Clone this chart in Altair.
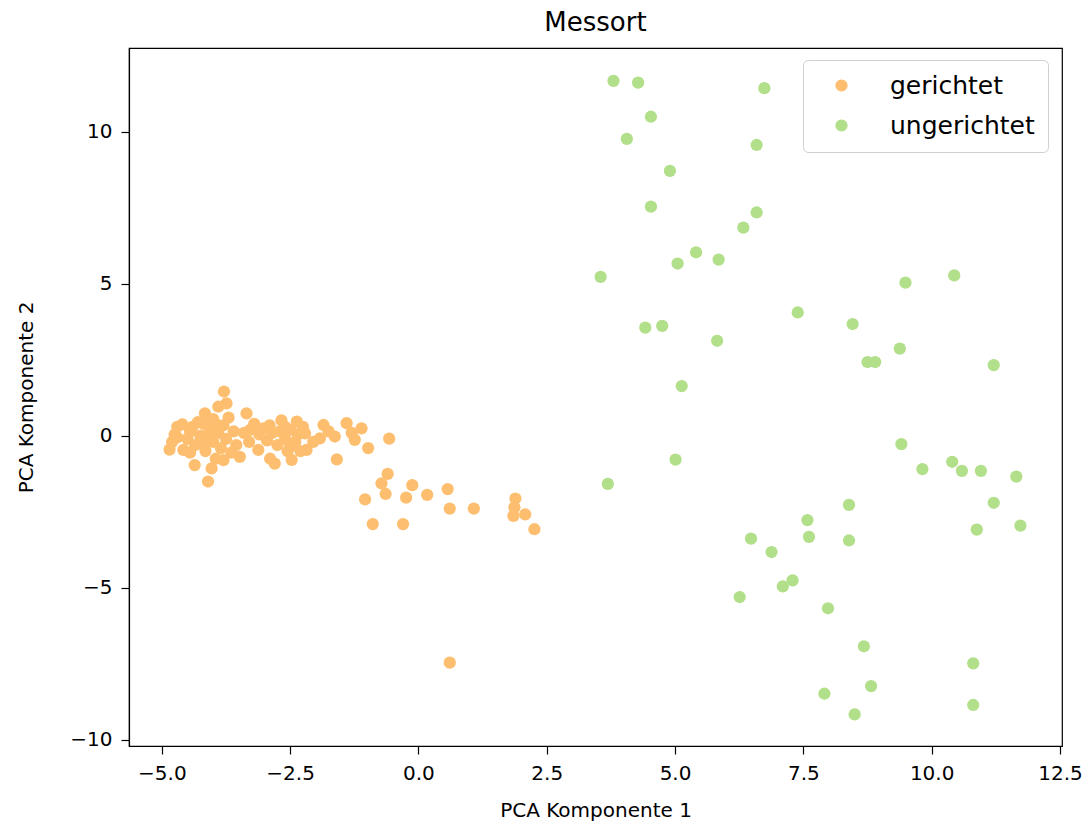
import altair as alt
import pandas as pd

categories = ["gerichtet", "ungerichtet"]
colors = ["#fdbf6f", "#b2df8a"]

ger_x = [-4.85, -4.80, -4.75, -4.70, -4.60, -4.58, -4.50, -4.45, -4.40, -4.35, -4.36, -4.25, -4.20, -4.16,
         -4.15, -4.10, -4.03, -4.05, -4.00, -4.00, -3.95, -3.90, -3.90, -3.85, -3.80, -3.79, -3.74, -3.75,
         -3.70, -3.80, -3.60, -3.55, -4.30, -4.10, -3.95, -4.20, -3.65, -4.45, -4.70,
         -3.48, -3.40, -3.35, -3.30, -3.28, -3.12, -3.10, -3.02, -2.95, -2.89, -2.85, -2.80, -2.75, -2.70,
         -2.67, -2.60, -2.55, -2.50, -2.37, -2.47, -2.40, -2.35, -2.30, -2.25, -2.21, -2.18, -2.05, -2.60,
         -2.90, -3.20, -2.50,
         -1.85, -1.92, -1.63, -1.40, -1.11, -1.24, -0.98, -0.57, -1.59, -1.75, -1.30,
         -0.60, -0.72, -0.64, -0.12, -0.24, 0.17, 0.57, 0.61, 1.08, -1.04, -0.89, -0.30, 1.89, 1.87, 1.85,
         2.08, 2.26, 0.61]
ger_y = [-0.45, -0.20, 0.05, 0.30, 0.38, -0.46, -0.10, 0.15, 0.30, -0.30, -0.96, 0.00, 0.40, 0.74,
         -0.50, -1.50, -1.07, 0.20, -0.20, 0.55, -0.75, 0.96, 0.10, -0.40, 0.35, 1.46, 1.07, -0.10,
         0.60, -0.80, 0.15, -0.30, 0.45, 0.05, 0.40, -0.25, -0.55, -0.55, -0.05,
         -0.69, 0.10, 0.74, -0.20, 0.20, -0.46, 0.05, 0.25, -0.15, -0.75, 0.10, -0.91, -0.30, 0.15,
         0.51, -0.10, -0.50, 0.20, 0.47, -0.79, -0.20, 0.05, -0.50, 0.30, 0.08, -0.46, -0.20, 0.30,
         0.35, 0.40, -0.35,
         0.36, -0.08, -0.02, 0.42, 0.25, -0.13, -0.40, -0.09, -0.77, 0.15, 0.10,
         -1.25, -1.56, -1.91, -1.62, -2.03, -1.94, -1.75, -2.39, -2.39, -2.09, -2.90, -2.90, -2.06, -2.35, -2.63,
         -2.58, -3.07, -7.46]

unger_x = [3.80, 4.28, 6.74, 4.53, 4.06, 6.59, 4.90, 4.53, 6.59, 6.33, 5.41, 5.85, 5.05, 3.55,
           9.49, 10.44, 7.39, 8.46, 4.42, 4.75, 5.82, 9.38, 8.75, 8.90, 11.21, 5.13, 9.41, 5.01, 9.82,
           10.40, 10.59, 10.96, 11.65, 3.69,
           8.39, 11.21, 7.58, 7.61, 8.39, 6.48, 6.88, 10.88, 11.73, 7.29, 7.10, 6.26, 7.98, 8.68, 10.81,
           8.82, 7.91, 8.50, 10.81]
unger_y = [11.68, 11.62, 11.44, 10.50, 9.77, 9.57, 8.72, 7.54, 7.35, 6.85, 6.04, 5.80, 5.67, 5.23,
           5.04, 5.28, 4.06, 3.68, 3.56, 3.62, 3.13, 2.87, 2.43, 2.43, 2.33, 1.64, -0.27, -0.78, -1.09,
           -0.85, -1.15, -1.15, -1.34, -1.58,
           -2.27, -2.20, -2.77, -3.32, -3.44, -3.38, -3.82, -3.08, -2.95, -4.75, -4.95, -5.30, -5.67, -6.92, -7.48,
           -8.23, -8.48, -9.16, -8.85]

x_ticks = [-5.0, -2.5, 0.0, 2.5, 5.0, 7.5, 10.0, 12.5]
y_ticks = [-10, -5, 0, 5, 10]

df = pd.DataFrame({
    "pc1": ger_x + unger_x,
    "pc2": ger_y + unger_y,
    "Messort": [categories[0]] * len(ger_x) + [categories[1]] * len(unger_x),
})

FONT = "DejaVu Sans"

chart = alt.Chart(df).mark_circle(size=150, opacity=1).encode(
    x=alt.X("pc1:Q",
            scale=alt.Scale(domain=[-5.64, 12.54], nice=False, zero=False),
            axis=alt.Axis(values=x_ticks, format=".1f", title="PCA Komponente 1", grid=False,
                          titlePadding=17)),
    y=alt.Y("pc2:Q",
            scale=alt.Scale(domain=[-10.2, 12.76], nice=False, zero=False),
            axis=alt.Axis(values=y_ticks, format="d", title="PCA Komponente 2", grid=False,
                          titlePadding=33)),
    color=alt.Color("Messort:N",
                    scale=alt.Scale(domain=categories, range=colors),
                    legend=alt.Legend(title=None, orient="none", legendX=674, legendY=12,
                                      symbolType="circle", symbolSize=150, symbolStrokeWidth=0,
                                      symbolOffset=13, labelOffset=36, labelFontSize=25,
                                      labelFont=FONT, labelColor="#000000",
                                      padding=13, rowPadding=14,
                                      fillColor="#ffffff", strokeColor="#d0d0d0",
                                      cornerRadius=5)),
).properties(
    width=933,
    height=698,
    title=alt.Title("Messort", fontSize=26, font=FONT, fontWeight="normal", color="#000000",
                    offset=12),
    autosize=alt.AutoSizeParams(type="none"),
    padding={"left": 121, "top": 40, "right": 22, "bottom": 75},
).configure_view(
    stroke="#000000", strokeWidth=1.2
).configure_axis(
    domainColor="#000000", domainWidth=1.2,
    tickColor="#000000", tickSize=8, tickWidth=1.2,
    labelFont=FONT, labelFontSize=20, labelColor="#000000", labelPadding=9,
    titleFont=FONT, titleFontSize=20, titleFontWeight="normal", titleColor="#000000",
)

chart.save("out.html", embed_options={"renderer": "svg", "actions": False})
